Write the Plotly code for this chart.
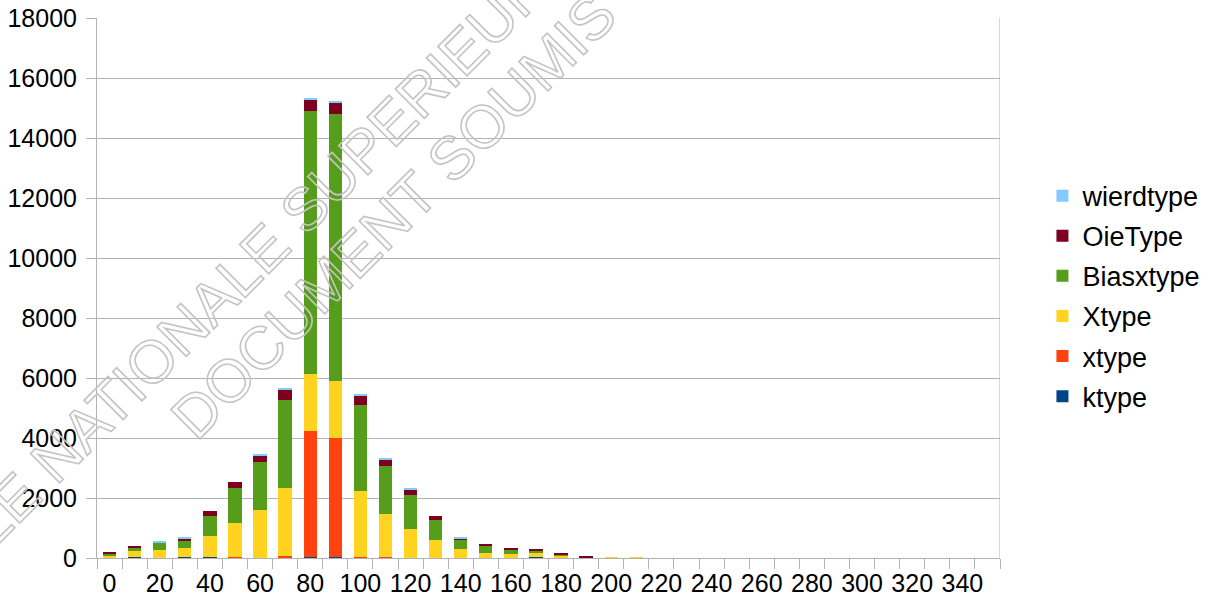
import plotly.graph_objects as go

# Bin starts (0, 10, ..., 350)
bins = list(range(0, 360, 10))

def pad(vals, n=36):
    return vals + [0] * (n - len(vals))

ktype = pad([30, 30, 0, 30, 30, 0, 0, 30, 30, 30, 0, 0, 0, 0, 0, 0, 0, 30, 30])
xtype_lower = pad([0, 0, 0, 0, 0, 30, 0, 35, 4210, 3980, 30, 30])
xtype_upper = pad([35, 200, 267, 300, 720, 1130, 1600, 2265, 1900, 1900, 2220, 1450,
                   977, 610, 310, 177, 143, 145, 55, 20, 15, 15])
biasxtype = pad([90, 90, 233, 267, 643, 1166, 1610, 2947, 8767, 8900, 2834, 1600,
                 1133, 667, 300, 233, 134, 66, 23])
oietype = pad([43, 77, 33, 57, 167, 200, 210, 333, 367, 367, 333, 200,
               167, 133, 33, 67, 66, 67, 33, 30])
wierdtype = pad([0, 0, 33, 33, 0, 0, 33, 33, 33, 56, 33, 33, 33, 0, 33])

series = [
    ("ktype", ktype, "#004586"),
    ("xtype", xtype_lower, "#ff420e"),
    ("Xtype", xtype_upper, "#ffd320"),
    ("Biasxtype", biasxtype, "#579d1c"),
    ("OieType", oietype, "#7e0021"),
    ("wierdtype", wierdtype, "#83caff"),
]

x_labels = list(range(0, 360, 20))

FONT = "Liberation Sans, Arial, sans-serif"
GRID = "#b3b3b3"
FS = 25

fig = go.Figure()
n = len(series)
for i, (name, vals, color) in enumerate(series):
    fig.add_trace(go.Bar(
        x=bins, y=vals, name=name, width=5.3,
        marker=dict(color=color, line=dict(width=0)),
        legendgroup=name, legendrank=n - i,
    ))

# Right border of the plot frame
fig.add_shape(type="line", xref="x", yref="paper", x0=355, x1=355, y0=0, y1=1,
              line=dict(color=GRID, width=1))

# Diagonal watermark text
W, H = 1213, 607
L, R, T, B = 97, 213, 18, 49
pw, ph = W - L - R, H - T - B

def paper(px, py):
    return (px - L) / pw, (H - B - py) / ph

for text, (px, py) in [("ECOLE NATIONALE SUPERIEURE", (226, 287)),
                       ("DOCUMENT SOUMIS", (393, 216))]:
    ax, ay = paper(px, py)
    fig.add_annotation(
        text=text, x=ax, y=ay, xref="paper", yref="paper",
        xanchor="center", yanchor="middle", textangle=-45, showarrow=False,
        font=dict(family=FONT, size=60, color="#bdbdbd"),
    )

fig.update_layout(
    width=W, height=H,
    barmode="stack",
    bargap=0,
    plot_bgcolor="white",
    paper_bgcolor="white",
    margin=dict(l=L, r=R, t=T, b=B, pad=0, autoexpand=False),
    font=dict(family=FONT, size=FS, color="black"),
    legend=dict(
        traceorder="grouped", tracegroupgap=2,
        x=1.047, xanchor="left", y=0.485, yanchor="middle",
        font=dict(family=FONT, size=27, color="black"),
        bgcolor="rgba(0,0,0,0)",
    ),
    xaxis=dict(
        range=[-5, 355],
        tickmode="array", tickvals=x_labels, ticktext=[str(v) for v in x_labels],
        ticks="outside", ticklen=3, tickcolor="rgba(0,0,0,0)",
        showgrid=False, zeroline=False,
        showline=True, linecolor=GRID, linewidth=1,
        minor=dict(tickmode="array", tickvals=[v - 5 for v in range(0, 370, 10)],
                   ticks="outside", ticklen=10, tickcolor=GRID, tickwidth=1,
                   showgrid=False),
        tickfont=dict(family=FONT, size=FS, color="black"),
    ),
    yaxis=dict(
        range=[0, 18000], dtick=2000, tick0=0, tickformat="d",
        ticks="outside", ticklen=10, tickcolor=GRID, tickwidth=1,
        showgrid=True, gridcolor=GRID, gridwidth=1,
        zeroline=False, showline=True, linecolor=GRID, linewidth=1,
        ticklabelstandoff=4,
        tickfont=dict(family=FONT, size=FS, color="black"),
    ),
)

# Hollow (outlined) watermark letters
outline_css = (
    "var s=document.createElement('style');"
    "s.textContent='.annotation-text{fill:none !important;stroke:#c4c4c4;stroke-width:1.6px;}';"
    "document.head.appendChild(s);"
)

fig.write_html("out.html", post_script=outline_css)
